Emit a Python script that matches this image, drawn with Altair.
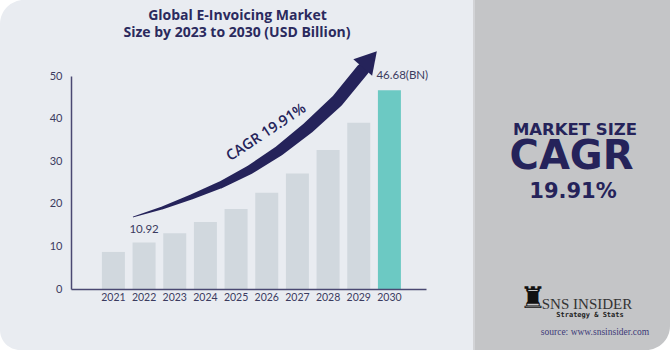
import altair as alt
import pandas as pd

# ---- data ----
years = [2021, 2022, 2023, 2024, 2025, 2026, 2027, 2028, 2029, 2030]
market_size = [8.7, 10.92, 13.1, 15.7, 18.8, 22.6, 27.1, 32.6, 39.0, 46.68]
year_labels = ["2021", "2022", "2023", "2024", "2025", "2026", "2027", "2028", "2029", "2030"]

label_years = [2022, 2030]
label_values = [10.92, 46.68]
label_texts = ["10.92", "46.68(BN)"]

# CAGR arrow path (read in data units: x = year position, y = USD Billion)
arrow_x = [2021.65, 2022.60, 2023.55, 2024.50, 2025.45, 2026.40, 2027.35, 2028.30, 2029.13]
arrow_y = [16.93, 19.04, 21.63, 24.45, 27.97, 32.44, 37.85, 44.19, 51.48]
arrow_w = [1, 3, 5, 7, 9, 10.5, 12, 13, 13]
head_x = [2029.36]
head_y = [53.9]

title_lines = ["Global E-Invoicing Market", "Size by 2023 to 2030 (USD Billion)"]

NAVY = "#25235A"
GRAY_BAR = "#D1D8DE"
TEAL = "#6CC9C3"
PANEL = "#E9ECF1"
SIDE = "#C4C5C7"
LABEL = "#3B3B5F"

# plot area origin in the page
OX, OY = 71, 76
W, H = 355, 213

bars_df = pd.DataFrame({"year": years, "value": market_size, "label": year_labels})
labels_df = pd.DataFrame({"year": label_years, "value": label_values, "text": label_texts})
arrow_df = pd.DataFrame({"x": arrow_x, "y": arrow_y, "w": arrow_w, "i": list(range(len(arrow_x)))})
head_df = pd.DataFrame({"x": head_x, "y": head_y})
one = pd.DataFrame({"a": [0]})

xscale = alt.Scale(domain=[2019.78, 2031.03], nice=False, zero=False)
yscale = alt.Scale(domain=[0, 50], nice=False)


def px(v):
    return alt.value(v - OX)


def py(v):
    return alt.value(v - OY)


def panel(x1, x2, y1, y2, color, **kw):
    return alt.Chart(one).mark_rect(color=color, **kw).encode(
        x=px(x1), x2=px(x2), y=py(y1), y2=py(y2)
    )


def txt(s, x, y, **kw):
    return alt.Chart(one).mark_text(text=s, **kw).encode(x=px(x), y=py(y))


left_panel = panel(0, 473, 0, 350, PANEL, cornerRadiusTopLeft=24, cornerRadiusBottomLeft=20)
right_panel = panel(474, 670, 0, 350, SIDE, cornerRadiusBottomRight=24)
divider = panel(473, 475, 0, 350, "#D2D3D6")

bars = alt.Chart(bars_df).mark_bar(size=23).encode(
    x=alt.X(
        "year:Q",
        scale=xscale,
        axis=alt.Axis(
            labels=False, title=None, ticks=False, grid=False,
            domainColor="#4A4872", domainWidth=1.5, zindex=1,
        ),
    ),
    y=alt.Y(
        "value:Q",
        scale=yscale,
        axis=alt.Axis(
            values=[0, 10, 20, 30, 40, 50], title=None, ticks=False, grid=False,
            domainColor="#4A4872", domainWidth=1.5, labelColor=LABEL,
            labelFont="Lato", labelFontSize=11, labelPadding=9, zindex=1,
        ),
    ),
    color=alt.condition(alt.datum.year == 2030, alt.value(TEAL), alt.value(GRAY_BAR)),
)

xlabels = alt.Chart(bars_df).mark_text(
    font="Lato", fontSize=10.5, color=LABEL, baseline="middle", dy=9
).encode(x=alt.X("year:Q", scale=xscale), y=alt.datum(0, scale=yscale), text="label:N")

lab1 = alt.Chart(labels_df).transform_filter(alt.datum.year == 2022).mark_text(
    font="Lato", fontSize=11.5, color=LABEL, dy=-12, baseline="middle"
).encode(x=alt.X("year:Q", scale=xscale), y=alt.Y("value:Q", scale=yscale), text="text:N")

lab2 = alt.Chart(labels_df).transform_filter(alt.datum.year == 2030).mark_text(
    font="Lato", fontSize=11.5, color=LABEL, dy=-14, dx=-13, align="left", baseline="middle"
).encode(x=alt.X("year:Q", scale=xscale), y=alt.Y("value:Q", scale=yscale), text="text:N")

arrow = alt.Chart(arrow_df).mark_trail(color=NAVY).encode(
    x=alt.X("x:Q", scale=xscale),
    y=alt.Y("y:Q", scale=yscale),
    size=alt.Size("w:Q", scale=None, legend=None),
    order=alt.Order("i:Q"),
)

head = alt.Chart(head_df).mark_point(
    shape="triangle-up", size=620, angle=41, filled=True, color=NAVY, opacity=1
).encode(x=alt.X("x:Q", scale=xscale), y=alt.Y("y:Q", scale=yscale))

cagr_df = pd.DataFrame({"x": [2025.99], "y": [36.7], "t": ["CAGR 19.91%"]})
cagr = alt.Chart(cagr_df).mark_text(
    font="Open Sans", fontSize=14.5, fontWeight=600, color=NAVY, angle=326.5, baseline="middle"
).encode(x=alt.X("x:Q", scale=xscale), y=alt.Y("y:Q", scale=yscale), text="t:N")

title1 = txt(title_lines[0], 237.5, 15.5, font="Open Sans", fontSize=14, fontWeight="bold",
             color="#2B2A5E", baseline="middle")
title2 = txt(title_lines[1], 237, 33, font="Open Sans", fontSize=14, fontWeight="bold",
             color="#2B2A5E", baseline="middle")

ms = txt("MARKET SIZE", 575, 134.5, font="DejaVu Sans", fontSize=16.5, fontWeight="bold",
         color=NAVY, baseline="alphabetic")
cg = txt("CAGR", 571.5, 169, font="DejaVu Sans", fontSize=40, fontWeight="bold",
         color=NAVY, baseline="alphabetic")
pc = txt("19.91%", 573, 198, font="DejaVu Sans", fontSize=21, fontWeight="bold",
         color=NAVY, baseline="alphabetic")

rook = txt("\u265C", 533, 299, font="DejaVu Sans", fontSize=30, color="#111111", baseline="middle")
sns = txt("SNS INSIDER", 587, 304, font="Liberation Sans Narrow", fontSize=15,
          color="#333333", baseline="middle")
strat = txt("Strategy & Stats", 590, 315, font="DejaVu Sans Mono", fontSize=7,
            fontWeight="bold", color="#222222", baseline="middle")
src = txt("source: www.snsinsider.com", 595, 332, font="Liberation Serif", fontSize=9.5,
          color="#3C3A78", baseline="middle")

chart = alt.layer(
    left_panel, right_panel, divider,
    bars, xlabels, lab1, lab2, arrow, head, cagr,
    title1, title2, ms, cg, pc, rook, sns, strat, src,
).properties(
    width=W, height=H,
    padding={"left": OX, "top": OY, "right": 670 - OX - W, "bottom": 350 - OY - H},
    autosize=alt.AutoSizeParams(type="none"),
    background="white",
).configure_view(stroke=None)

chart.save("out.html", embed_options={"renderer": "svg", "actions": False})
